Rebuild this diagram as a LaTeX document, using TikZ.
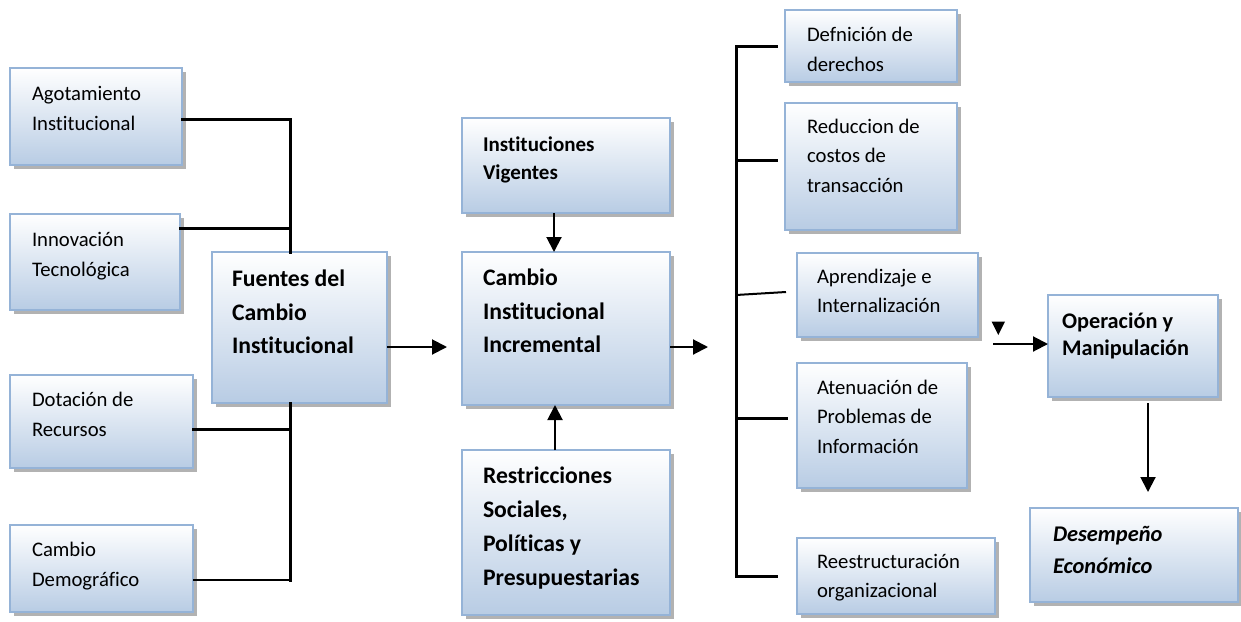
\documentclass[tikz,border=0pt]{standalone}
\usepackage{fontspec}
\setmainfont{Carlito}[RawFeature={-liga;-clig;-calt;-dlig}]
\usetikzlibrary{arrows.meta,shadows}
\definecolor{bord}{HTML}{95B3D7}
\definecolor{fillb}{HTML}{B8CCE4}
\tikzset{
  box/.style={draw=bord, line width=1.5pt, top color=white, bottom color=fillb,
    inner sep=0pt, outer sep=0pt, anchor=north west,
    drop shadow={shadow xshift=3.5pt, shadow yshift=-3.5pt, fill=black!55, opacity=0.55}},
  bus/.style={line width=3pt, line cap=rect},
  thinl/.style={line width=2pt},
  arr/.style={line width=2pt, -{Triangle[length=15pt,width=15pt]}},
}
\newcommand{\regf}{\fontsize{20.7}{29.7}\selectfont}
\newcommand{\bigb}{\fontsize{23.7}{33.5}\selectfont\bfseries}
% name, x, y, w, h, pad, top, font, text
\newcommand{\bx}[9]{\node[box] (#1) at (#2,#3)
  {\parbox[t][#5pt][t]{#4pt}{\vspace*{#7pt}\leftskip=#6pt\rightskip=0pt plus 1fil\parindent=0pt #8\strut #9}};}
\begin{document}
\begin{tikzpicture}[x=1pt,y=-1pt]
\useasboundingbox (0,0) rectangle (1241,621);
% left column
\bx{ago}{10}{68}{172}{97}{22}{12}{\regf}{Agotamiento\\Institucional}
\bx{inn}{10}{214}{170}{96}{22}{12}{\regf}{Innovación\\Tecnológica}
\bx{dot}{10}{375}{183}{93}{22}{11}{\regf}{Dotación de\\Recursos}
\bx{dem}{10}{525}{183}{87}{22}{11}{\regf}{Cambio\\Demográfico}
\bx{fue}{212}{252}{175}{151}{20}{11.2}{\bigb}{Fuentes del\\Cambio\\Institucional}
% middle column
\bx{ins}{462}{118}{208}{95}{21}{13.2}{\fontsize{21}{28.3}\selectfont\bfseries}{Instituciones\\Vigentes}
\bx{cam}{462}{252}{208}{153}{21}{10.3}{\bigb}{Cambio\\Institucional\\Incremental}
\bx{res}{462}{450}{208}{165}{21}{9.4}{\fontsize{23.7}{34.2}\selectfont\bfseries}{Restricciones\\Sociales,\\Políticas y\\Presupuestarias}
% right column
\bx{def}{785}{10}{172}{72}{22}{11}{\regf}{Defnición de\\derechos}
\bx{red}{785}{103}{172}{127}{22}{9.5}{\regf}{Reduccion de\\costos de\\transacción}
\bx{apr}{797}{253}{181}{84}{20}{9.5}{\regf}{Aprendizaje e\\Internalización}
\bx{ate}{797}{363}{170}{125}{20}{10.5}{\regf}{Atenuación de\\Problemas de\\Información}
\bx{ree}{797}{538}{198}{76}{20}{9.5}{\regf}{Reestructuración\\organizacional}
\bx{ope}{1048}{295}{170}{102}{14}{13.9}{\fontsize{22.3}{27.7}\selectfont\bfseries}{Operación y\\Manipulación}
\bx{des}{1030}{508}{208}{94}{23}{11.5}{\fontsize{22.4}{31.7}\selectfont\bfseries\itshape}{Desempeño\\Económico}
% left bracket
\coordinate (busL) at (290,0);
\draw[bus] ([yshift=-2.5pt]ago.east) -- ([yshift=-2.5pt]ago.east -| busL) -- (busL |- fue.north);
\draw[bus] ([yshift=34pt]inn.east) -- ([yshift=34pt]inn.east -| busL);
\draw[bus] ([yshift=-7.5pt]dot.east) -- ([yshift=-7.5pt]dot.east -| busL);
\draw[thinl] ([yshift=-11.5pt]dem.east) -- ([yshift=-11.5pt]dem.east -| busL);
\draw[bus] (busL |- fue.south) -- ([yshift=-11.5pt]dem.east -| busL);
% middle arrows
\draw[arr, shorten >=15pt] ([yshift=-19.5pt]fue.east) -- ([yshift=-19.5pt]fue.east -| cam.west);
\draw[arr] ([xshift=-12pt]ins.south) -- ([xshift=-12pt]cam.north);
\draw[arr] ([xshift=-11pt]res.north) -- ([xshift=-11pt]cam.south);
\coordinate (c2) at (708,347);
\draw[arr] (cam.east |- c2) -- (c2);
% right bracket
\coordinate (busR) at (736,0);
\draw[bus] (busR |- def.west) -- (busR |- ree.west);
\draw[bus, shorten >=9pt] (busR |- def.west) -- (def.west);
\draw[bus, shorten >=9pt] ([yshift=6.5pt]red.west -| busR) -- ([yshift=6.5pt]red.west);
\draw[thinl] (busR |- apr.west) -- ([shift={(-11pt,3pt)}]apr.west);
\draw[bus, shorten >=11pt] ([yshift=7.5pt]ate.west -| busR) -- ([yshift=7.5pt]ate.west);
\draw[bus, shorten >=21pt] (busR |- ree.west) -- (ree.west);
% stray arrowhead and arrows on the right
\fill (991.5,321.5) -- (1005,321.5) -- (998.25,335) -- cycle;
\coordinate (a0) at (993,344);
\draw[arr] (a0) -- (a0 -| ope.west);
\draw[arr, shorten <=6pt, shorten >=16pt] ([xshift=15pt]ope.south) -- ([xshift=15pt]ope.south |- des.north);
\end{tikzpicture}
\end{document}
